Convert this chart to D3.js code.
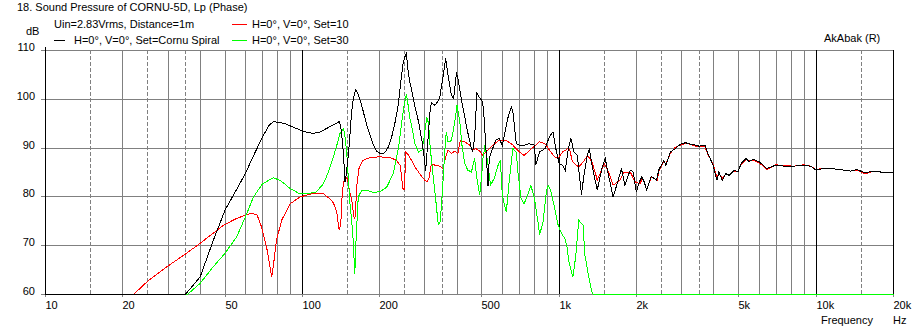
<!DOCTYPE html>
<html><head><meta charset="utf-8">
<script src="https://cdn.jsdelivr.net/npm/d3@7"></script>
<style>
body{margin:0;background:#fff}
svg{display:block}
text{font-family:"Liberation Sans",Arial,sans-serif;font-size:11px;fill:#000}
</style>
</head><body>
<svg id="c" width="916" height="331"></svg>
<script>
// ---- data (frequency in Hz, level in dB) ----
const freqBlack = [10,35,40,45,50,55,60,65,70,74,77,81,85.6,92,98,105,110,117,124,132,139,141,143,144.6,146.5,148,151,155.5,158,161,164,167,172,178,184,189,195,201,206,210,216,222,230,236,242,246,250,254,258,262,266,274,283,292,298,302,307,314,318,326,331,342,352,361,369,380,388,398,403,415,428,440,455,460,468,478,490,503,510,518,528,534,550,566,583,600,630,650,660,680,700,730,760,800,810,838,880,915,945,975,1000,1030,1055,1082,1110,1140,1175,1220,1250,1290,1310,1345,1405,1470,1510,1545,1620,1690,1745,1800,1890,1940,1995,2050,2095,2140,2190,2280,2390,2440,2550,2600,2710,2830,2960,3100,3240,3390,3500,3690,3790,3970,4110,4180,4310,4440,4590,4800,4960,5100,5330,5480,5670,6000,6430,6950,7480,8200,8950,9500,10000,10600,11500,12400,13600,14400,15600,16500,17800,20000];
const dbBlack = [60,60,63.6,71.1,77.3,81.2,84.8,88.8,92.3,94.6,95.4,95.3,95.0,94.3,93.7,93.2,93.0,93.3,94.0,94.8,95.4,94.5,91.6,88.5,83.1,84.5,88.5,97.4,100.3,101.9,101.4,100.2,97.8,94.7,92.4,90.6,89.3,88.9,88.9,89.2,90.2,92.0,95.5,98.8,104,107.0,108.6,109.4,105.7,103.5,102,98.5,95.5,91.5,88,85.3,90.6,97.5,99.3,98.8,99.0,100.2,104.3,108.4,105.0,100.8,100.2,105.5,104.3,100.2,96.5,93.3,89.9,89.2,92.0,101.2,100.3,99.5,96.1,90,82.2,87.9,89.9,91.6,92.0,90.6,96.1,98.4,97.4,90.9,90.6,90.6,90.9,90.6,86.5,89.2,89.9,92.3,93.3,89.2,86.8,86.5,85.5,89.6,92.0,89.2,88.5,80.5,84.8,88.9,89.7,86.1,81.4,86.1,87.9,85.1,80.0,83.1,85.8,82.4,85.5,85.1,81.0,83.1,84.1,83.1,81.4,84.2,83.4,85.5,87.5,86.5,89.2,89.9,90.8,91.1,90.8,90.6,90.4,90.6,88.9,86.5,83.4,85.1,83.4,84.8,84.4,85.5,85.1,86.8,87.9,87.2,87.7,87.2,85.8,86.5,86.3,86.3,86.5,86.3,85.5,85.8,85.8,85.6,85.3,85.6,84.9,85.3,85.1,84.9];

const freqRed = [10,22,25.2,29.7,35.3,40,49.3,55.5,62.6,66.5,69.3,72.5,74.8,75.9,77,79.3,83,89.7,98,110,121,128,132,136,139,141,143,146,149.5,153,156,159,160.5,163,166,172,184,200,219,232,240,243,246,250,252,258,266,277,292,300,305,311,318,328,342,352,360,369,380,392,403,412,428,448,460,473,490,503,518,550,583,622,660,700,730,780,838,880,915,960,990,1030,1080,1100,1125,1190,1240,1290,1340,1395,1405,1450,1500,1555,1620,1720,1790,1890,1970,2060,2110,2190,2280,2410,2440,2550,2600,2710,2830,2960,3100,3240,3390,3690,3790,3970,4110,4180,4310,4440,4590,4800,4960,5100,5330,5480,5670,6000,6430,6950,7480,8200,8950,9500,10000,10600,11500,12400,13600,14400,15600,16500,17800,20000];
const dbRed = [60,60,62.9,65.7,68.4,70.5,74.2,75.6,76.6,76.4,73.9,69.8,65.7,63.5,65.7,71.1,75.2,78.6,80.0,80.7,80.6,79.6,78.8,76.9,73.3,74.2,81.0,84.1,83.8,81.0,79.0,75.6,76.0,82.4,85.8,87.5,88.1,88.2,88.1,87.5,86.5,84.4,81.7,81.5,89.2,88.7,87.5,85.8,84.1,83.4,83.1,83.8,86.8,86.5,86.3,85.8,87.9,89.6,88.9,89.4,88.9,91.6,91.3,90.6,89.6,89.9,89.4,88.5,89.2,90.6,91.6,91.6,90.6,89.2,88.5,89.9,91.3,90.9,89.6,88.2,88.0,89.2,89.9,89.5,87.2,86.1,87.2,88.5,87.2,84.1,83.4,85.1,86.8,85.1,82.4,83.4,85.1,85.1,83.1,82.7,83.8,81.4,84.1,83.4,85.3,87.3,86.8,89.0,90.2,90.6,91.0,90.8,90.4,90.3,88.7,86.7,84.0,84.8,83.8,84.6,84.6,85.3,85.3,86.6,87.7,87.4,87.5,87.0,85.6,86.6,86.4,86.3,86.6,86.3,85.6,85.9,85.8,85.6,85.3,85.5,84.7,85.2,85.1,84.9];

const freqGreen = [10,35.7,40,45,49.9,55.5,60,64.5,70,77,82,89.7,98,104,113,120,124,128,132,136,140,144.5,147,149,151,153,157,160,162,165,170,178,189,201,213,226,237,248,254,258,262,266,274,283,292,296,305,310,314,318,328,331,338,344,350,358,363,369,380,392,400,410,418,428,440,455,468,478,490,498,505,514,528,540,558,578,590,600,622,640,660,680,690,710,730,760,775,800,830,838,865,890,905,930,960,990,1020,1050,1070,1090,1110,1130,1160,1190,1240,1255,1310,1345,1360,20000];
const dbGreen = [60,60,62.3,65.7,68.4,71.8,75.9,80.0,82.7,83.9,83.4,81.7,80.6,80.6,81.0,82.5,84.1,86,88.2,90.5,93,94.0,92,88.5,83.8,79.0,72.8,64.3,72,80.0,81.3,81.4,80.9,81.1,82.0,84.8,90.3,98.4,101.1,98.8,96.0,94.7,91.0,89.2,89.6,91.3,96.4,95.0,90.6,87.5,81,79.0,74.3,74.9,80.3,89,93.3,91.3,91.5,95.4,98.8,95.5,90.6,87.0,85.5,85.1,87.9,83.8,80.4,84,88,90.6,86.5,82.4,83.8,86.5,87.5,80.3,76.9,83.8,89.9,89.2,85.1,79.7,78.6,81.0,82.4,79.7,74.2,72.2,74.9,81.0,82.4,81.0,77.6,74.2,72.5,71.5,70.1,66.7,65,63.6,68,75.2,74.2,68.4,62.9,60.2,60,60];

const yTicks = [60,70,80,90,100,110];
const xTickValues = [10,20,50,100,200,500,1000,2000,5000,10000,20000];
const xTickLabels = ["10","20","50","100","200","500","1k","2k","5k","10k","20k"];
const gridSolid = [20,30,40,50,60,70,80,90,200,300,400,500,600,700,800,900,2000,3000,4000,5000,6000,7000,8000,9000];
const gridDashed = [15,25,35,150,250,350,1500,2500,3500,15000];
const gridMajor = [100,1000,10000,20000];
const seriesNames = ["H=0°, V=0°, Set=Cornu Spiral","H=0°, V=0°, Set=10","H=0°, V=0°, Set=30"];
const seriesColors = ["#000000","#ff0000","#00ff00"];

// ---- chart ----
const svg = d3.select("#c");
const x = d3.scaleLog().domain([10,20000]).range([45.5,893.5]);
const y = d3.scaleLinear().domain([60,110]).range([294.5,50.5]).clamp(true);
const sx = v => Math.floor(x(v)) + 0.5;
const sy = v => Math.floor(y(v)) + 0.5;
const GRAY = "#808080";

const g = svg.append("g").attr("shape-rendering","crispEdges");
g.selectAll(".hg").data(yTicks.slice(1)).join("line")
  .attr("x1",45).attr("x2",894).attr("y1",d=>sy(d)).attr("y2",d=>sy(d))
  .attr("stroke",GRAY);
g.selectAll(".vs").data(gridSolid).join("line")
  .attr("x1",sx).attr("x2",sx).attr("y1",50).attr("y2",294).attr("stroke",GRAY);
g.selectAll(".vd").data(gridDashed).join("line")
  .attr("x1",sx).attr("x2",sx).attr("y1",50).attr("y2",294).attr("stroke",GRAY)
  .attr("stroke-dasharray","4,2");
g.selectAll(".vm").data(gridMajor).join("line")
  .attr("x1",sx).attr("x2",sx).attr("y1",50).attr("y2",294).attr("stroke","#000");
g.append("line").attr("x1",41).attr("x2",894).attr("y1",sy(60)).attr("y2",sy(60)).attr("stroke",GRAY);
g.selectAll(".yt").data(yTicks).join("line")
  .attr("x1",41).attr("x2",45).attr("y1",d=>sy(d)).attr("y2",d=>sy(d)).attr("stroke",GRAY);
g.selectAll(".xt").data(xTickValues).join("line")
  .attr("x1",sx).attr("x2",sx).attr("y1",294).attr("y2",297).attr("stroke",GRAY);
g.append("line").attr("x1",sx(10)).attr("x2",sx(10)).attr("y1",47).attr("y2",295).attr("stroke","#000");

svg.selectAll(".yl").data(yTicks).join("text")
  .attr("x",35).attr("y",d=>sy(d)).attr("text-anchor","end").attr("font-size","12px").text(d=>d);
svg.selectAll(".xl").data(xTickValues).join("text")
  .attr("x",d=>sx(d)).attr("y",309).attr("font-size","12px").text((d,i)=>xTickLabels[i]);

svg.append("text").attr("x",26).attr("y",35).attr("font-size","12px").text("dB");
svg.append("text").attr("x",821).attr("y",323.5).attr("font-size","12px").text("Frequency");
svg.append("text").attr("x",893).attr("y",323.5).attr("font-size","12px").text("Hz");

svg.append("text").attr("x",17).attr("y",11).attr("font-size","12px").text("18. Sound Pressure of CORNU-5D, Lp (Phase)");
svg.append("text").attr("x",54).attr("y",28).attr("font-size","12px").text("Uin=2.83Vrms, Distance=1m");
svg.append("text").attr("x",824).attr("y",42).attr("font-size","12px").text("AkAbak (R)");
const legendPos = [[54,65,74,40.5],[232,247,252,24.5],[232,247,252,40.5]];
legendPos.forEach((p,i)=>{
  svg.append("line").attr("x1",p[0]).attr("x2",p[1]).attr("y1",p[3]).attr("y2",p[3])
    .attr("stroke",seriesColors[i]).attr("shape-rendering","crispEdges");
  svg.append("text").attr("x",p[2]).attr("y",p[3]+3.5).attr("font-size","12px").text(seriesNames[i]);
});

const line = d3.line().x(d=>x(d[0])).y(d=>y(d[1]));
const series = [
  [d3.zip(freqRed,dbRed),seriesColors[1]],
  [d3.zip(freqGreen,dbGreen),seriesColors[2]],
  [d3.zip(freqBlack,dbBlack),seriesColors[0]]
];
series.forEach(([data,col])=>{
  svg.append("path").attr("d",line(data)).attr("fill","none").attr("stroke",col)
    .attr("stroke-width",1).attr("shape-rendering","crispEdges");
});
</script>
</body></html>
